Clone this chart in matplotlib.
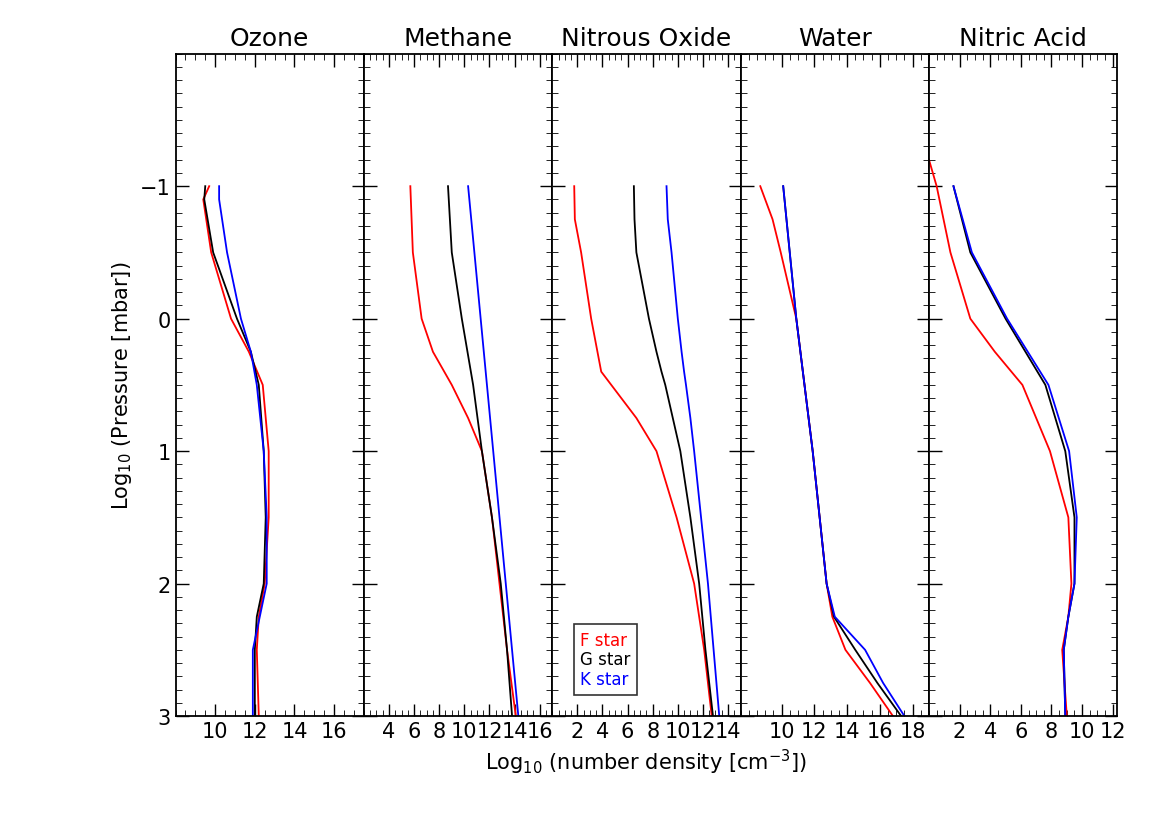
import matplotlib
matplotlib.use("Agg")
import matplotlib.pyplot as plt
from matplotlib.ticker import MultipleLocator

titles = ["Ozone", "Methane", "Nitrous Oxide", "Water", "Nitric Acid"]
xlims = [(8, 17.5), (2, 17), (0, 15), (7.5, 19), (0, 12.3)]
xticks = [[10, 12, 14, 16], [4, 6, 8, 10, 12, 14, 16], [2, 4, 6, 8, 10, 12, 14],
          [10, 12, 14, 16, 18], [2, 4, 6, 8, 10, 12]]

# Ozone
oz_p = [-1, -0.9, -0.5, 0, 0.25, 0.5, 1, 1.5, 2, 2.25, 2.5, 3]
oz_F = [9.7, 9.4, 9.8, 10.8, 11.7, 12.4, 12.7, 12.7, 12.5, 12.2, 12.1, 12.2]
oz_G = [9.5, 9.45, 9.9, 11.1, 11.8, 12.2, 12.45, 12.55, 12.45, 12.1, 12.0, 12.0]
oz_K = [10.2, 10.2, 10.6, 11.3, 11.8, 12.1, 12.45, 12.6, 12.6, 12.25, 11.9, 11.9]
# Methane
ch4_p = [-1, -0.5, 0, 0.25, 0.5, 0.75, 1, 1.5, 2, 2.5, 3]
ch4_F = [5.7, 5.9, 6.6, 7.5, 9.0, 10.3, 11.4, 12.2, 12.8, 13.4, 14.1]
ch4_G = [8.7, 9.0, 9.8, 10.25, 10.7, 11.05, 11.4, 12.2, 12.9, 13.4, 13.8]
ch4_K = [10.3, 10.8, 11.3, 11.55, 11.8, 12.05, 12.3, 12.8, 13.3, 13.8, 14.3]
# Nitrous oxide
n2o_p = [-1, -0.75, -0.5, 0, 0.25, 0.4, 0.5, 0.75, 1, 1.5, 2, 2.5, 3]
n2o_F = [1.75, 1.8, 2.3, 3.1, 3.6, 3.9, 4.7, 6.7, 8.3, 9.9, 11.3, 12.1, 12.7]
n2o_G = [6.5, 6.55, 6.7, 7.7, 8.3, 8.7, 9.0, 9.6, 10.2, 11.0, 11.7, 12.2, 12.8]
n2o_K = [9.1, 9.2, 9.5, 10.0, 10.3, 10.5, 10.65, 11.0, 11.3, 11.85, 12.4, 12.85, 13.3]
# Water
h2o_p = [-1, -0.75, -0.5, 0, 1, 2, 2.25, 2.5, 2.75, 3]
h2o_F = [8.7, 9.45, 9.95, 10.9, 11.9, 12.75, 13.1, 13.9, 15.4, 16.8]
h2o_G = [10.1, 10.3, 10.5, 10.9, 11.9, 12.75, 13.2, 14.5, 15.85, 17.3]
h2o_K = [10.1, 10.3, 10.5, 10.9, 11.9, 12.75, 13.25, 15.1, 16.2, 17.5]
# Nitric acid
hno3_pF = [-1.2, -1, -0.5, 0, 0.25, 0.5, 1, 1.5, 2, 2.25, 2.5, 3]
hno3_F = [0.0, 0.5, 1.4, 2.7, 4.3, 6.1, 7.9, 9.1, 9.3, 9.1, 8.7, 9.0]
hno3_p = [-1, -0.5, 0, 0.5, 1, 1.5, 2, 2.25, 2.5, 3]
hno3_G = [1.6, 2.7, 5.0, 7.6, 8.9, 9.5, 9.5, 9.1, 8.8, 8.9]
hno3_K = [1.6, 2.8, 5.1, 7.8, 9.15, 9.65, 9.5, 9.1, 8.8, 8.9]

panels = [
    [(oz_p, oz_F), (oz_p, oz_G), (oz_p, oz_K)],
    [(ch4_p, ch4_F), (ch4_p, ch4_G), (ch4_p, ch4_K)],
    [(n2o_p, n2o_F), (n2o_p, n2o_G), (n2o_p, n2o_K)],
    [(h2o_p, h2o_F), (h2o_p, h2o_G), (h2o_p, h2o_K)],
    [(hno3_pF, hno3_F), (hno3_p, hno3_G), (hno3_p, hno3_K)],
]
colors = ["red", "black", "blue"]
labels = ["F star", "G star", "K star"]

plt.rcParams["font.family"] = "DejaVu Sans"
fig = plt.figure(figsize=(11.7, 8.29), dpi=100)
L, R, B, T = 0.150, 0.955, 0.135, 0.934
w = (R - L) / 5
for i in range(5):
    ax = fig.add_axes([L + i * w, B, w, T - B])
    for (p, x), c in zip(panels[i], colors):
        ax.plot(x, p, color=c, lw=1.3)
    ax.set_xlim(*xlims[i])
    ax.set_ylim(3, -2)
    ax.set_xticks(xticks[i])
    ax.xaxis.set_minor_locator(MultipleLocator(0.5))
    ax.set_yticks([-1, 0, 1, 2, 3])
    ax.yaxis.set_minor_locator(MultipleLocator(0.1))
    ax.tick_params(which="both", direction="in", top=True, right=True, labelsize=15)
    ax.tick_params(which="major", length=9, width=1)
    ax.tick_params(which="minor", length=4)
    ax.set_title(titles[i], fontsize=18)
    for s in ax.spines.values():
        s.set_linewidth(1.3)
    if i > 0:
        ax.set_yticklabels([])
    else:
        ax.set_ylabel(r"Log$_{10}$ (Pressure [mbar])", fontsize=15)
    if i == 2:
        ax.set_xlabel(r"Log$_{10}$ (number density [cm$^{-3}$])", fontsize=15)
        leg = ax.legend([plt.Line2D([], [], lw=0)] * 3, labels, loc="lower left",
                        bbox_to_anchor=(0.07, 0.02), handlelength=0, handletextpad=0,
                        fancybox=False, edgecolor="black", fontsize=12,
                        borderpad=0.4, labelspacing=0.1)
        for t, c in zip(leg.get_texts(), colors):
            t.set_color(c)
        leg.get_frame().set_linewidth(1.2)

fig.savefig("out.png", dpi=100)
